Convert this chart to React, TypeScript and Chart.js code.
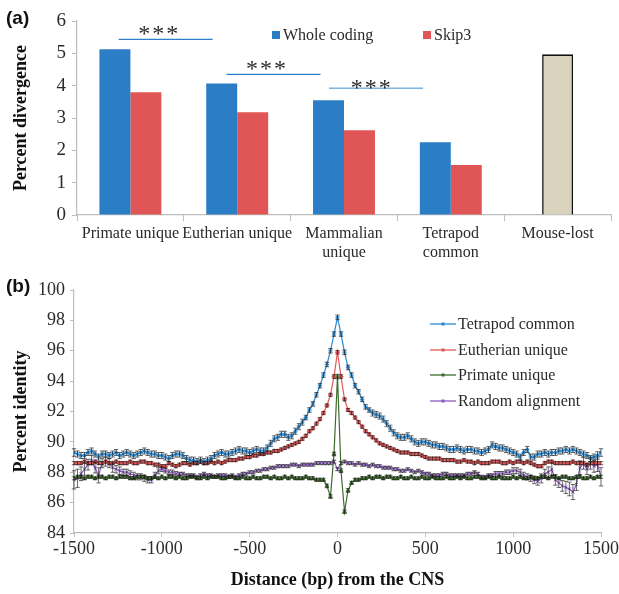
import React, { useEffect, useRef } from "react";
import { Chart, registerables } from "chart.js";
Chart.register(...registerables);

const SERIF = '"Liberation Serif", "Times New Roman", serif';
const SANS = '"Liberation Sans", Arial, sans-serif';

// ---------- Panel (a) data ----------
const barCategories: (string | string[])[] = [
  "Primate unique",
  "Eutherian unique",
  ["Mammalian", "unique"],
  ["Tetrapod", "common"],
  "Mouse-lost",
];
const wholeCoding = [5.13, 4.07, 3.55, 2.25, null];
const skip3 = [3.8, 3.18, 2.62, 1.55, null];
const mouseLost = [null, null, null, null, 4.97];
const barTicksY = [0, 1, 2, 3, 4, 5, 6];

// significance brackets (category-index units / value units)
const sigFrom = [-0.11, 0.9, 1.86];
const sigTo = [0.77, 1.78, 2.74];
const sigLineY = [5.43, 4.35, 3.92];
const sigStarX = [0.26, 1.27, 2.25];
const sigStarY = [5.72, 4.64, 4.06];

// ---------- Panel (b) data ----------
const distanceBp: number[] = [];
for (let bp = -1500; bp <= 1500; bp += 20) distanceBp.push(bp);

const tetrapodCommon = [
  89.3, 89.2, 89.1, 89.1, 89.3, 89.4, 89.2, 89.0, 89.2, 89.2,
  89.1, 89.2, 89.3, 89.1, 89.2, 89.3, 89.2, 89.1, 89.2, 89.3,
  89.4, 89.3, 89.2, 89.2, 89.1, 89.1, 89.0, 88.9, 89.1, 89.2,
  89.2, 89.1, 88.9, 88.8, 88.8, 88.7, 88.8, 88.7, 88.8, 88.9,
  89.1, 89.2, 89.3, 89.2, 89.2, 89.3, 89.4, 89.5, 89.4, 89.4,
  89.3, 89.4, 89.5, 89.4, 89.4, 89.6, 89.9, 90.2, 90.3, 90.5,
  90.5, 90.3, 90.4, 90.7, 91.0, 91.3, 91.6, 92.1, 92.5, 93.1,
  93.7, 94.4, 95.1, 96.0, 97.1, 98.2, 97.1, 95.9, 94.9, 94.4,
  93.7, 93.3, 92.8, 92.3, 92.1, 91.9, 91.8, 91.7, 91.5, 91.2,
  90.9, 90.6, 90.4, 90.3, 90.3, 90.4, 90.2, 90.0, 89.9, 90.0,
  90.0, 89.9, 89.8, 89.8, 89.7, 89.7, 89.6, 89.5, 89.5, 89.6,
  89.5, 89.4, 89.5, 89.5, 89.4, 89.4, 89.3, 89.4, 89.5, 89.8,
  89.7, 89.6, 89.6, 89.5, 89.4, 89.3, 89.2, 89.0, 89.3, 89.5,
  89.0, 89.0, 89.2, 89.2, 89.3, 89.2, 89.3, 89.3, 89.4, 89.4,
  89.5, 89.4, 89.5, 89.4, 89.3, 89.2, 89.1, 88.9, 89.0, 89.1,
  89.3,
];
const eutherianUnique = [
  88.6, 88.6, 88.6, 88.7, 88.6, 88.6, 88.7, 88.6, 88.6, 88.7,
  88.6, 88.6, 88.7, 88.6, 88.6, 88.6, 88.7, 88.6, 88.6, 88.7,
  88.7, 88.6, 88.6, 88.5, 88.5, 88.4, 88.4, 88.6, 88.5, 88.4,
  88.5, 88.6, 88.6, 88.5, 88.6, 88.6, 88.7, 88.6, 88.6, 88.7,
  88.6, 88.7, 88.6, 88.7, 88.8, 88.8, 88.8, 88.9, 88.9, 89.0,
  89.0, 89.1, 89.1, 89.2, 89.2, 89.3, 89.3, 89.4, 89.4, 89.5,
  89.6, 89.7, 89.8, 89.9, 90.0, 90.2, 90.4, 90.7, 90.9, 91.2,
  91.5, 91.9, 92.4, 93.1, 94.3, 95.9, 94.3, 92.8, 92.1, 91.9,
  91.6, 91.3, 91.0, 90.7, 90.5, 90.3, 90.1, 89.9, 89.8, 89.7,
  89.6, 89.5, 89.4, 89.3, 89.3, 89.3, 89.2, 89.2, 89.2, 89.1,
  89.0, 88.9, 88.9, 88.9, 88.9, 88.8, 88.8, 88.8, 88.8, 88.7,
  88.7, 88.8, 88.7, 88.7, 88.6, 88.7, 88.6, 88.6, 88.6, 88.7,
  88.7, 88.7, 88.6, 88.6, 88.7, 88.6, 88.7, 88.7, 88.6, 88.7,
  88.6, 88.5, 88.4, 88.4, 88.6, 88.7, 88.7, 88.6, 88.6, 88.6,
  88.6, 88.6, 88.7, 88.6, 88.6, 88.6, 88.5, 88.6, 88.6, 88.6,
  88.6,
];
const primateUnique = [
  87.6, 87.7, 87.7, 87.6, 87.7, 87.7, 87.6, 87.7, 87.7, 87.6,
  87.7, 87.7, 87.6, 87.7, 87.7, 87.7, 87.6, 87.6, 87.7, 87.7,
  87.7, 87.6, 87.6, 87.7, 87.6, 87.7, 87.6, 87.7, 87.7, 87.6,
  87.7, 87.6, 87.6, 87.7, 87.7, 87.6, 87.6, 87.7, 87.6, 87.7,
  87.7, 87.7, 87.6, 87.6, 87.7, 87.7, 87.6, 87.6, 87.7, 87.6,
  87.6, 87.7, 87.6, 87.6, 87.7, 87.7, 87.6, 87.7, 87.6, 87.6,
  87.7, 87.6, 87.7, 87.6, 87.6, 87.6, 87.7, 87.6, 87.6, 87.5,
  87.5, 87.5, 87.1, 86.4, 89.2, 94.3, 88.1, 85.4, 86.8, 87.3,
  87.5, 87.5, 87.6, 87.6, 87.7, 87.6, 87.7, 87.7, 87.6, 87.7,
  87.7, 87.6, 87.6, 87.7, 87.6, 87.6, 87.7, 87.6, 87.6, 87.7,
  87.6, 87.6, 87.7, 87.6, 87.6, 87.6, 87.7, 87.6, 87.6, 87.7,
  87.6, 87.7, 87.6, 87.6, 87.7, 87.7, 87.6, 87.6, 87.7, 87.6,
  87.6, 87.7, 87.6, 87.6, 87.6, 87.7, 87.6, 87.7, 87.6, 87.6,
  87.7, 87.6, 87.6, 87.7, 87.7, 87.6, 87.7, 87.7, 87.6, 87.7,
  87.7, 87.6, 87.6, 87.7, 87.7, 87.6, 87.6, 87.7, 87.6, 87.7,
  87.7,
];
const randomAlignment = [
  87.5, 87.6, 87.9, 88.2, 88.5, 88.8, 88.3, 87.8, 88.6, 88.7,
  88.6, 88.3, 88.2, 88.1, 88.0, 88.0, 87.9, 87.8, 87.7, 87.7,
  87.6, 87.5, 87.5, 87.8, 88.1, 88.2, 88.1, 88.0, 88.0, 87.9,
  87.9, 87.9, 87.8, 87.8, 87.8, 87.7, 87.8, 87.9, 87.8, 87.8,
  87.7, 87.8, 87.8, 87.8, 87.7, 87.8, 87.7, 87.8, 87.9, 87.9,
  88.0, 88.0, 88.1, 88.1, 88.2, 88.2, 88.3, 88.3, 88.4, 88.4,
  88.4, 88.4, 88.5, 88.5, 88.4, 88.5, 88.5, 88.5, 88.5, 88.6,
  88.6, 88.6, 88.6, 88.6, 88.7, 88.2, 88.6, 88.7, 88.6, 88.6,
  88.5, 88.6, 88.5, 88.5, 88.4, 88.5, 88.4, 88.4, 88.3, 88.3,
  88.3, 88.2, 88.2, 88.1, 88.1, 88.2, 88.1, 88.0, 88.1, 88.0,
  87.9, 87.9, 87.8, 87.8, 87.8, 87.9, 87.9, 87.8, 87.8, 87.8,
  87.8, 87.8, 87.9, 87.9, 88.0, 87.9, 87.7, 87.7, 87.8, 87.8,
  87.9, 87.9, 87.9, 88.0, 88.0, 88.1, 88.1, 88.0, 87.8, 87.7,
  87.6, 87.5, 87.4, 87.6, 87.9, 88.0, 88.2, 87.5, 87.3, 87.1,
  87.0, 86.9, 86.7, 87.2, 88.3, 88.6, 88.2, 88.6, 88.4, 88.5,
  87.7,
];

const tetrapodErr = [
  0.25, 0.2, 0.2, 0.2, 0.2, 0.2, 0.2, 0.2, 0.2, 0.2,
  0.2, 0.2, 0.2, 0.2, 0.2, 0.2, 0.2, 0.2, 0.2, 0.2,
  0.2, 0.2, 0.2, 0.2, 0.2, 0.2, 0.2, 0.2, 0.2, 0.2,
  0.2, 0.2, 0.2, 0.2, 0.2, 0.2, 0.2, 0.2, 0.2, 0.2,
  0.2, 0.2, 0.2, 0.2, 0.2, 0.2, 0.2, 0.2, 0.2, 0.2,
  0.2, 0.2, 0.2, 0.2, 0.2, 0.2, 0.2, 0.2, 0.2, 0.2,
  0.2, 0.2, 0.2, 0.2, 0.2, 0.2, 0.15, 0.15, 0.15, 0.15,
  0.15, 0.15, 0.15, 0.15, 0.15, 0.15, 0.15, 0.15, 0.15, 0.15,
  0.15, 0.15, 0.15, 0.15, 0.15, 0.2, 0.2, 0.2, 0.2, 0.2,
  0.2, 0.2, 0.2, 0.2, 0.2, 0.2, 0.2, 0.2, 0.2, 0.2,
  0.2, 0.2, 0.2, 0.2, 0.2, 0.2, 0.2, 0.2, 0.2, 0.2,
  0.2, 0.2, 0.2, 0.2, 0.2, 0.2, 0.2, 0.2, 0.2, 0.2,
  0.2, 0.2, 0.2, 0.2, 0.2, 0.2, 0.2, 0.2, 0.2, 0.2,
  0.2, 0.2, 0.2, 0.2, 0.2, 0.2, 0.2, 0.2, 0.2, 0.2,
  0.2, 0.2, 0.2, 0.2, 0.2, 0.2, 0.2, 0.2, 0.2, 0.25,
  0.25,
];
const eutherianErr = [
  0.1, 0.1, 0.1, 0.1, 0.1, 0.1, 0.1, 0.1, 0.1, 0.1,
  0.1, 0.1, 0.1, 0.1, 0.1, 0.1, 0.1, 0.1, 0.1, 0.1,
  0.1, 0.1, 0.1, 0.1, 0.1, 0.1, 0.1, 0.1, 0.1, 0.1,
  0.1, 0.1, 0.1, 0.1, 0.1, 0.1, 0.1, 0.1, 0.1, 0.1,
  0.1, 0.1, 0.1, 0.1, 0.1, 0.1, 0.1, 0.1, 0.1, 0.1,
  0.1, 0.1, 0.1, 0.1, 0.1, 0.1, 0.1, 0.1, 0.1, 0.1,
  0.1, 0.1, 0.1, 0.1, 0.1, 0.1, 0.1, 0.1, 0.1, 0.1,
  0.1, 0.1, 0.1, 0.1, 0.12, 0.12, 0.12, 0.1, 0.1, 0.1,
  0.1, 0.1, 0.1, 0.1, 0.1, 0.1, 0.1, 0.1, 0.1, 0.1,
  0.1, 0.1, 0.1, 0.1, 0.1, 0.1, 0.1, 0.1, 0.1, 0.1,
  0.1, 0.1, 0.1, 0.1, 0.1, 0.1, 0.1, 0.1, 0.1, 0.1,
  0.1, 0.1, 0.1, 0.1, 0.1, 0.1, 0.1, 0.1, 0.1, 0.1,
  0.1, 0.1, 0.1, 0.1, 0.1, 0.1, 0.1, 0.1, 0.1, 0.1,
  0.1, 0.1, 0.1, 0.1, 0.1, 0.1, 0.1, 0.1, 0.1, 0.1,
  0.1, 0.1, 0.1, 0.1, 0.1, 0.1, 0.1, 0.1, 0.1, 0.1,
  0.1,
];
const primateErr = [
  0.1, 0.1, 0.1, 0.1, 0.1, 0.1, 0.1, 0.1, 0.1, 0.1,
  0.1, 0.1, 0.1, 0.1, 0.1, 0.1, 0.1, 0.1, 0.1, 0.1,
  0.1, 0.1, 0.1, 0.1, 0.1, 0.1, 0.1, 0.1, 0.1, 0.1,
  0.1, 0.1, 0.1, 0.1, 0.1, 0.1, 0.1, 0.1, 0.1, 0.1,
  0.1, 0.1, 0.1, 0.1, 0.1, 0.1, 0.1, 0.1, 0.1, 0.1,
  0.1, 0.1, 0.1, 0.1, 0.1, 0.1, 0.1, 0.1, 0.1, 0.1,
  0.1, 0.1, 0.1, 0.1, 0.1, 0.1, 0.1, 0.1, 0.1, 0.1,
  0.1, 0.1, 0.12, 0.12, 0.12, 0.15, 0.12, 0.12, 0.12, 0.1,
  0.1, 0.1, 0.1, 0.1, 0.1, 0.1, 0.1, 0.1, 0.1, 0.1,
  0.1, 0.1, 0.1, 0.1, 0.1, 0.1, 0.1, 0.1, 0.1, 0.1,
  0.1, 0.1, 0.1, 0.1, 0.1, 0.1, 0.1, 0.1, 0.1, 0.1,
  0.1, 0.1, 0.1, 0.1, 0.1, 0.1, 0.1, 0.1, 0.1, 0.1,
  0.1, 0.1, 0.1, 0.1, 0.1, 0.1, 0.1, 0.1, 0.1, 0.1,
  0.1, 0.1, 0.1, 0.1, 0.1, 0.1, 0.1, 0.1, 0.1, 0.1,
  0.1, 0.1, 0.1, 0.1, 0.1, 0.1, 0.1, 0.1, 0.1, 0.1,
  0.1,
];
const randomErr = [
  0.6, 0.6, 0.45, 0.4, 0.35, 0.3, 0.35, 0.5, 0.3, 0.3,
  0.3, 0.3, 0.25, 0.25, 0.2, 0.2, 0.2, 0.2, 0.2, 0.2,
  0.2, 0.2, 0.2, 0.2, 0.2, 0.15, 0.15, 0.15, 0.15, 0.15,
  0.1, 0.1, 0.1, 0.1, 0.1, 0.1, 0.1, 0.1, 0.1, 0.1,
  0.1, 0.1, 0.1, 0.1, 0.1, 0.1, 0.1, 0.1, 0.1, 0.1,
  0.1, 0.1, 0.1, 0.1, 0.1, 0.1, 0.1, 0.1, 0.1, 0.1,
  0.1, 0.1, 0.1, 0.1, 0.1, 0.1, 0.1, 0.1, 0.1, 0.1,
  0.1, 0.1, 0.1, 0.1, 0.1, 0.1, 0.1, 0.1, 0.1, 0.1,
  0.1, 0.1, 0.1, 0.1, 0.1, 0.1, 0.1, 0.1, 0.1, 0.1,
  0.1, 0.1, 0.1, 0.1, 0.1, 0.1, 0.1, 0.1, 0.1, 0.1,
  0.1, 0.1, 0.1, 0.1, 0.1, 0.1, 0.1, 0.1, 0.1, 0.1,
  0.1, 0.1, 0.1, 0.1, 0.1, 0.1, 0.1, 0.1, 0.1, 0.1,
  0.15, 0.15, 0.15, 0.15, 0.15, 0.2, 0.2, 0.2, 0.2, 0.2,
  0.2, 0.25, 0.25, 0.3, 0.3, 0.35, 0.4, 0.35, 0.3, 0.35,
  0.4, 0.45, 0.5, 0.4, 0.45, 0.4, 0.35, 0.4, 0.4, 0.45,
  0.6,
];

const lineSeriesNames = ["Tetrapod common", "Eutherian unique", "Primate unique", "Random alignment"];
const lineColors = ["#2B8AD3", "#E25858", "#3D6B2C", "#8A5BBE"];
const lineMarkers = ["star", "rectRot", "triangle", "crossRot"];

const AXIS_GREY = "#BDBDBD";
const TEXT = "#2a2a2a";

function BarPanel() {
  const ref = useRef<HTMLCanvasElement>(null);
  useEffect(() => {
    if (!ref.current) return;
    const annot = {
      id: "annotA",
      afterDatasetsDraw(chart: any) {
        const { ctx, scales } = chart;
        const x = scales.x;
        const y = scales.y;
        ctx.save();
        const sigColors = ["#2E7FC8", "#2E7FC8", "#79B5E3"];
        for (let i = 0; i < sigFrom.length; i++) {
          ctx.strokeStyle = sigColors[i];
          ctx.lineWidth = i === 2 ? 1.6 : 1.2;
          ctx.beginPath();
          const py = y.getPixelForValue(sigLineY[i]);
          ctx.moveTo(x.getPixelForValue(sigFrom[i]), py);
          ctx.lineTo(x.getPixelForValue(sigTo[i]), py);
          ctx.stroke();
          ctx.fillStyle = TEXT;
          ctx.font = `24px ${SERIF}`;
          ctx.textAlign = "center";
          ctx.textBaseline = "middle";
          (ctx as any).letterSpacing = "2px";
          ctx.fillText("***", x.getPixelForValue(sigStarX[i]) + 1, y.getPixelForValue(sigStarY[i]) + 5);
          (ctx as any).letterSpacing = "0px";
        }
        // legend
        const legend = [
          { label: "Whole coding", color: "#2B7EC5", x: 272 },
          { label: "Skip3", color: "#E05656", x: 423 },
        ];
        ctx.font = `16px ${SERIF}`;
        ctx.textAlign = "left";
        ctx.textBaseline = "middle";
        legend.forEach((l) => {
          ctx.fillStyle = l.color;
          ctx.fillRect(l.x, 31, 8, 8);
          ctx.fillStyle = TEXT;
          ctx.fillText(l.label, l.x + 11, 35.5);
        });
        ctx.font = `bold 19px ${SANS}`;
        ctx.fillStyle = "#111";
        ctx.fillText("(a)", 6, 19);
        ctx.restore();
      },
    };
    const chart = new Chart(ref.current, {
      type: "bar",
      data: {
        labels: barCategories as any,
        datasets: [
          { label: "Whole coding", data: wholeCoding as any, backgroundColor: "#2B7EC5", categoryPercentage: 0.58, barPercentage: 1, skipNull: true } as any,
          { label: "Skip3", data: skip3 as any, backgroundColor: "#E05656", categoryPercentage: 0.58, barPercentage: 1, skipNull: true } as any,
          { label: "Mouse-lost", data: mouseLost as any, backgroundColor: "#D9D2BC", borderColor: "#111", borderWidth: 1.6, categoryPercentage: 0.58, barPercentage: 0.5, skipNull: true } as any,
        ],
      },
      options: {
        animation: false,
        responsive: false,
        layout: { padding: { top: 21, right: 8, left: 0, bottom: 0 } },
        plugins: { legend: { display: false }, tooltip: { enabled: false } },
        scales: {
          x: {
            grid: { display: true, drawOnChartArea: false, drawTicks: true, tickLength: 6, color: AXIS_GREY, offset: true },
            border: { display: true, color: AXIS_GREY, width: 1.2 },
            ticks: { color: TEXT, font: { family: SERIF, size: 16 }, maxRotation: 0, autoSkip: false, padding: 3 },
            afterFit: (s: any) => { s.height = 53; s.paddingLeft = 0; s.paddingRight = 0; },
          },
          y: {
            min: 0,
            max: 6,
            afterBuildTicks: (s: any) => { s.ticks = barTicksY.map((v) => ({ value: v })); },
            grid: { display: true, drawOnChartArea: false, drawTicks: true, tickLength: 5, color: AXIS_GREY },
            border: { display: true, color: AXIS_GREY, width: 1.2 },
            ticks: { color: TEXT, font: { family: SERIF, size: 19 }, padding: 6 },
            title: { display: true, text: "Percent divergence", color: "#111", font: { family: SERIF, size: 18, weight: "bold" }, padding: { top: 11, bottom: 0 } },
            afterFit: (s: any) => { s.width = 77; },
          },
        },
      } as any,
      plugins: [annot],
    });
    return () => chart.destroy();
  }, []);
  return <canvas ref={ref} width={619} height={268} style={{ position: "absolute", left: 0, top: 0, width: 619, height: 268 }} />;
}

function LinePanel() {
  const ref = useRef<HTMLCanvasElement>(null);
  useEffect(() => {
    if (!ref.current) return;
    const series = [tetrapodCommon, eutherianUnique, primateUnique, randomAlignment];
    const errs = [tetrapodErr, eutherianErr, primateErr, randomErr];
    const errBars = {
      id: "errBars",
      afterDatasetsDraw(chart: any) {
        const { ctx, scales } = chart;
        const y = scales.y;
        ctx.save();
        ctx.strokeStyle = "rgba(20,20,20,0.8)";
        ctx.lineWidth = 0.8;
        chart.data.datasets.forEach((ds: any, di: number) => {
          const meta = chart.getDatasetMeta(di);
          const e = ds.errors as number[];
          meta.data.forEach((pt: any, i: number) => {
            const v = series[di][i];
            const y0 = y.getPixelForValue(v + e[i]);
            const y1 = y.getPixelForValue(v - e[i]);
            ctx.beginPath();
            ctx.moveTo(pt.x, y0);
            ctx.lineTo(pt.x, y1);
            ctx.moveTo(pt.x - 2.2, y0);
            ctx.lineTo(pt.x + 2.2, y0);
            ctx.moveTo(pt.x - 2.2, y1);
            ctx.lineTo(pt.x + 2.2, y1);
            ctx.stroke();
          });
        });
        // legend
        const ys = [56, 82, 107, 133];
        ctx.font = `16px ${SERIF}`;
        ctx.textAlign = "left";
        ctx.textBaseline = "middle";
        lineSeriesNames.forEach((name, i) => {
          ctx.strokeStyle = lineColors[i];
          ctx.lineWidth = 1.3;
          ctx.beginPath();
          ctx.moveTo(430, ys[i]);
          ctx.lineTo(456, ys[i]);
          ctx.stroke();
          ctx.fillStyle = lineColors[i];
          ctx.fillRect(441.5, ys[i] - 1.5, 3, 3);
          ctx.fillStyle = TEXT;
          ctx.fillText(name, 458, ys[i] + 1);
        });
        ctx.font = `bold 19px ${SANS}`;
        ctx.fillStyle = "#111";
        ctx.fillText("(b)", 6, 19);
        ctx.restore();
      },
    };
    const chart = new Chart(ref.current, {
      type: "line",
      data: {
        datasets: series.map((s, di) => ({
          label: lineSeriesNames[di],
          data: distanceBp.map((x, i) => ({ x, y: s[i] })),
          borderColor: lineColors[di],
          backgroundColor: lineColors[di],
          borderWidth: 1.2,
          pointStyle: lineMarkers[di],
          pointRadius: 2.2,
          pointBorderWidth: 1,
          pointBorderColor: lineColors[di],
          pointBackgroundColor: lineColors[di],
          tension: 0,
          errors: errs[di],
        })) as any,
      },
      options: {
        animation: false,
        responsive: false,
        layout: { padding: { top: 22, right: 18, left: 0, bottom: 0 } },
        plugins: { legend: { display: false }, tooltip: { enabled: false } },
        scales: {
          x: {
            type: "linear",
            min: -1500,
            max: 1500,
            grid: { display: true, drawOnChartArea: false, drawTicks: true, tickLength: 4, color: AXIS_GREY },
            border: { display: true, color: AXIS_GREY, width: 1.2 },
            ticks: { stepSize: 500, color: TEXT, font: { family: SERIF, size: 18 }, padding: 1, maxRotation: 0, callback: (v: any) => String(v) },
            title: { display: true, text: "Distance (bp) from the CNS", color: "#111", font: { family: SERIF, size: 18, weight: "bold" }, padding: { top: 0, bottom: 3 } },
            afterFit: (s: any) => { s.height = 61; s.paddingLeft = 0; s.paddingRight = 0; },
          },
          y: {
            min: 84,
            max: 100,
            grid: { display: true, drawOnChartArea: false, drawTicks: true, tickLength: 4, color: AXIS_GREY },
            border: { display: true, color: AXIS_GREY, width: 1.2 },
            ticks: { stepSize: 2, color: TEXT, font: { family: SERIF, size: 18 }, padding: 5 },
            title: { display: true, text: "Percent identity", color: "#111", font: { family: SERIF, size: 18, weight: "bold" }, padding: { top: 11, bottom: 0 } },
            afterFit: (s: any) => { s.width = 74; },
          },
        },
      } as any,
      plugins: [errBars],
    });
    return () => chart.destroy();
  }, []);
  return <canvas ref={ref} width={619} height={326} style={{ position: "absolute", left: 0, top: 268, width: 619, height: 326 }} />;
}

export default function App() {
  return (
    <div style={{ position: "fixed", left: 0, top: 0, width: 619, height: 594, background: "#fff" }}>
      <BarPanel />
      <LinePanel />
    </div>
  );
}
